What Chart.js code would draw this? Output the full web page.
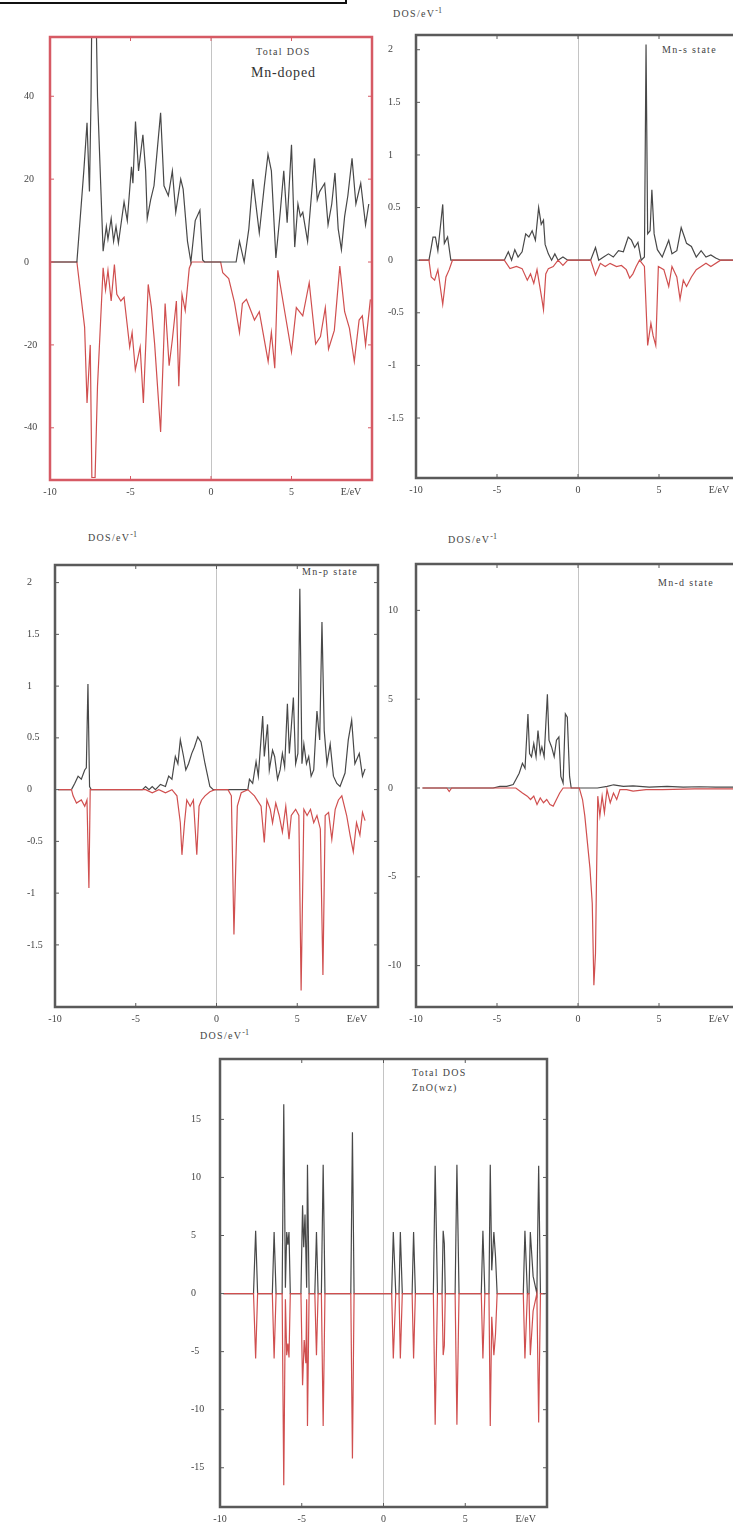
<!DOCTYPE html>
<html>
<head>
<meta charset="utf-8">
<script src="https://cdn.jsdelivr.net/npm/chart.js@4.4.1/dist/chart.umd.min.js"></script>
<style>
    html, body { margin: 0; padding: 0; background: #fff; overflow: hidden; width: 733px; height: 1528px; }
    canvas.panel { position: absolute; }
    .txt { position: absolute; font-family: 'Liberation Serif', 'DejaVu Serif', serif; color: #444; white-space: nowrap; line-height: 1; font-size: 10px; letter-spacing: 1.3px; }
    .txt sup { font-size: 8px; vertical-align: 4px; letter-spacing: 0; }
    .corner { position: absolute; left: -2px; top: -2px; width: 347px; height: 4px; border-right: 2px solid #111; border-bottom: 2px solid #111; }
</style>
</head>
<body>
<div class="corner"></div>

<div class="txt" style="left:256px;top:47px;">Total DOS</div>
<div class="txt" style="left:251px;top:66px;font-size:14px;letter-spacing:0.8px;color:#333;">Mn-doped</div>

<div class="txt" style="left:393px;top:7px;">DOS/eV<sup>-1</sup></div>
<div class="txt" style="left:662px;top:45px;">Mn-s state</div>

<div class="txt" style="left:88px;top:531px;">DOS/eV<sup>-1</sup></div>
<div class="txt" style="left:302px;top:567px;">Mn-p state</div>

<div class="txt" style="left:448px;top:533px;">DOS/eV<sup>-1</sup></div>
<div class="txt" style="left:658px;top:578px;">Mn-d state</div>

<div class="txt" style="left:200px;top:1029px;">DOS/eV<sup>-1</sup></div>
<div class="txt" style="left:412px;top:1068px;">Total DOS</div>
<div class="txt" style="left:412px;top:1083px;">ZnO(wz)</div>

<script>
    // energy axis, shared by all panels
    const xTicks = [-10, -5, 0, 5, 8.7];
    const xTickLabels = ['-10', '-5', '0', '5', 'E/eV'];

    // y tick values
    const totalTicks = [40, 20, 0, -20, -40];
    const sTicks = [2, 1.5, 1, 0.5, 0, -0.5, -1, -1.5];
    const pTicks = [2, 1.5, 1, 0.5, 0, -0.5, -1, -1.5];
    const dTicks = [10, 5, 0, -5, -10];
    const znoTicks = [15, 10, 5, 0, -5, -10, -15];

    // Total DOS, Mn-doped  [E, DOS]
    const totalUp = [[-10,0],[-8.33,0],[-7.9,22],[-7.7,33.6],[-7.55,17],[-7.45,40],[-7.38,70],[-7.18,70],[-7.05,40],[-6.7,2.6],[-6.5,8.6],[-6.4,5.5],[-6.2,10.5],[-6.05,5],[-5.9,8.6],[-5.75,4.6],[-5.4,14.5],[-5.2,10],[-4.94,23],[-4.85,19],[-4.69,33.9],[-4.5,22],[-4.23,30.7],[-4.06,22],[-3.96,10.5],[-3.75,15],[-3.54,18.4],[-3.13,36],[-2.92,18.4],[-2.65,16],[-2.4,22],[-2.19,12],[-1.88,20],[-1.73,17.6],[-1.46,5],[-1.25,0],[-0.98,10],[-0.69,12.5],[-0.52,0.5],[-0.4,0],[1.56,0],[1.77,5],[2.06,0],[2.35,8],[2.6,20],[3.0,7],[3.3,18],[3.54,26],[3.75,22],[4.03,1],[4.3,12],[4.52,22],[4.73,9.5],[5.0,28.3],[5.2,3.6],[5.4,14],[5.55,11],[5.7,12],[6.0,5],[6.43,25],[6.6,15],[6.75,17],[7.06,19],[7.27,9],[7.5,14],[7.7,21.5],[7.9,8],[8.1,3],[8.3,11],[8.5,16],[8.76,25],[9.0,14],[9.3,19],[9.6,9],[9.8,14]];
    const totalDn = [[-10,0],[-8.33,0],[-7.85,-15.7],[-7.7,-34],[-7.5,-20],[-7.4,-52],[-7.2,-52],[-7.05,-30],[-6.7,-1.4],[-6.55,-6.7],[-6.4,-2],[-6.2,-9.4],[-6.0,-0.6],[-5.85,-7.8],[-5.6,-9.4],[-5.4,-8.5],[-5.05,-20.5],[-4.9,-17],[-4.7,-26],[-4.4,-20.5],[-4.2,-34],[-3.9,-5.4],[-3.7,-11],[-3.5,-19.8],[-3.13,-41],[-2.85,-10],[-2.6,-25],[-2.4,-18.7],[-2.15,-9.4],[-2.0,-30],[-1.8,-7.8],[-1.6,-11.7],[-1.35,-1.5],[-1.2,0],[0.6,0],[0.73,-2.6],[1.1,-4],[1.46,-9.8],[1.77,-17],[1.95,-10],[2.2,-9],[2.7,-14],[3.0,-12],[3.55,-24],[3.75,-17],[3.96,-25.6],[4.15,-2],[4.58,-12],[5.0,-21.7],[5.3,-11],[5.7,-13],[6.1,-5],[6.5,-19.8],[6.8,-18],[7.1,-11],[7.3,-21],[7.66,-16.5],[8.0,-1],[8.3,-12],[8.6,-16],[8.9,-24],[9.2,-14],[9.4,-13],[9.6,-20],[9.9,-9]];

    // Mn-s state
    const sUp = [[-9.8,0],[-9.2,0],[-9.06,0.12],[-8.95,0.22],[-8.8,0.22],[-8.65,0.09],[-8.35,0.53],[-8.25,0.16],[-8.05,0.22],[-7.85,0],[-4.55,0],[-4.3,0.08],[-4.1,0],[-3.9,0.1],[-3.7,0.03],[-3.45,0.08],[-3.23,0.25],[-3.03,0.22],[-2.83,0.28],[-2.63,0.19],[-2.43,0.5],[-2.27,0.34],[-2.13,0.38],[-2.03,0.15],[-1.83,0.06],[-1.63,0],[-1.43,0.06],[-1.23,0],[-0.93,0.03],[-0.63,0],[0.78,0],[1.08,0.12],[1.28,0],[1.58,0.03],[1.88,0.06],[2.18,0.03],[2.5,0.09],[2.8,0.08],[3.1,0.22],[3.3,0.19],[3.5,0.12],[3.7,0.17],[3.9,0],[4.1,0.03],[4.2,2.05],[4.3,0.25],[4.45,0.28],[4.56,0.67],[4.7,0.25],[4.9,0.1],[5.2,0.03],[5.6,0.19],[5.8,0.06],[6.1,0.09],[6.37,0.31],[6.57,0.22],[6.7,0.16],[7.0,0.13],[7.3,0.03],[7.6,0.09],[7.9,0.03],[8.2,0.05],[8.5,0.02],[8.8,0],[9.8,0]];
    const sDn = [[-9.8,0],[-9.2,0],[-9.06,-0.16],[-8.85,-0.19],[-8.65,-0.09],[-8.35,-0.42],[-8.15,-0.16],[-7.95,-0.09],[-7.75,0],[-4.55,0],[-4.2,-0.08],[-3.8,-0.06],[-3.45,-0.08],[-3.13,-0.19],[-2.93,-0.13],[-2.73,-0.22],[-2.53,-0.09],[-2.23,-0.37],[-2.13,-0.47],[-1.99,-0.13],[-1.83,-0.08],[-1.53,-0.06],[-1.23,0],[-0.93,-0.05],[-0.63,0],[0.78,0],[1.08,-0.14],[1.38,-0.03],[1.68,-0.06],[1.98,-0.03],[2.38,-0.06],[2.68,-0.05],[2.98,-0.09],[3.19,-0.17],[3.39,-0.13],[3.59,-0.06],[3.8,0],[4.1,-0.06],[4.3,-0.81],[4.5,-0.6],[4.64,-0.72],[4.8,-0.81],[4.96,-0.06],[5.3,-0.09],[5.6,-0.25],[5.8,-0.06],[6.1,-0.16],[6.3,-0.37],[6.5,-0.19],[6.7,-0.25],[7.0,-0.16],[7.3,-0.09],[7.6,-0.06],[7.9,-0.03],[8.2,-0.06],[8.8,0],[9.8,0]];

    // Mn-p state
    const pUp = [[-9.8,0],[-8.98,0],[-8.78,0.06],[-8.57,0.13],[-8.37,0.1],[-8.16,0.19],[-8.06,0.21],[-7.96,1.02],[-7.86,0.03],[-7.76,0],[-4.59,0],[-4.39,0.03],[-4.18,0],[-3.98,0.03],[-3.78,0],[-3.47,0.05],[-3.16,0.03],[-2.96,0.13],[-2.76,0.1],[-2.55,0.32],[-2.39,0.25],[-2.24,0.48],[-2.04,0.32],[-1.9,0.19],[-1.73,0.25],[-1.53,0.35],[-1.37,0.41],[-1.16,0.51],[-0.96,0.46],[-0.71,0.25],[-0.41,0.03],[-0.2,0],[1.94,0],[2.04,0.1],[2.24,0.06],[2.45,0.27],[2.59,0.13],[2.86,0.71],[2.96,0.32],[3.16,0.63],[3.27,0.19],[3.47,0.38],[3.6,0.32],[3.78,0.1],[3.94,0.19],[4.08,0.35],[4.22,0.22],[4.39,0.83],[4.51,0.35],[4.63,0.6],[4.76,0.89],[4.9,0.25],[5.04,0.35],[5.16,1.94],[5.29,0.25],[5.41,0.44],[5.57,0.25],[5.71,0.32],[5.86,0.13],[6.02,0.19],[6.22,0.76],[6.39,0.48],[6.53,1.62],[6.67,0.57],[6.84,0.25],[7.04,0.44],[7.24,0.13],[7.45,0.06],[7.65,0.03],[7.96,0.16],[8.16,0.48],[8.37,0.67],[8.57,0.25],[8.84,0.35],[9.04,0.13],[9.2,0.2]];
    const pDn = [[-9.8,0],[-8.98,0],[-8.88,-0.06],[-8.67,-0.13],[-8.37,-0.1],[-8.16,-0.16],[-8.02,-0.1],[-7.9,-0.95],[-7.82,0],[-4.39,0],[-3.98,-0.03],[-3.57,0],[-3.16,-0.03],[-2.76,0],[-2.45,-0.06],[-2.24,-0.32],[-2.14,-0.63],[-1.98,-0.32],[-1.84,-0.1],[-1.63,-0.16],[-1.43,-0.1],[-1.22,-0.63],[-1.08,-0.16],[-0.92,-0.1],[-0.71,-0.06],[-0.41,-0.02],[-0.1,0],[0.71,0],[0.92,-0.06],[1.08,-1.4],[1.29,-0.16],[1.53,-0.03],[1.94,0],[2.35,-0.06],[2.76,-0.16],[2.96,-0.51],[3.12,-0.1],[3.33,-0.19],[3.47,-0.32],[3.67,-0.13],[3.88,-0.25],[4.08,-0.41],[4.29,-0.16],[4.49,-0.48],[4.63,-0.25],[4.9,-0.19],[5.1,-0.25],[5.24,-1.94],[5.41,-0.19],[5.61,-0.25],[5.82,-0.19],[6.02,-0.32],[6.22,-0.25],[6.43,-0.38],[6.59,-1.79],[6.73,-0.25],[6.94,-0.22],[7.14,-0.48],[7.35,-0.19],[7.55,-0.1],[7.76,-0.06],[8.06,-0.25],[8.27,-0.44],[8.47,-0.6],[8.67,-0.32],[8.88,-0.44],[9.04,-0.22],[9.2,-0.3]];

    // Mn-d state
    const dUp = [[-9.6,0],[-5.24,0],[-4.82,0.09],[-4.4,0.09],[-4.0,0.19],[-3.84,0.46],[-3.63,0.83],[-3.43,1.39],[-3.27,1.11],[-3.09,4.17],[-2.99,1.94],[-2.87,1.76],[-2.73,2.5],[-2.59,1.76],[-2.47,3.24],[-2.33,1.94],[-2.23,2.31],[-2.09,1.76],[-1.89,5.28],[-1.79,2.69],[-1.63,2.31],[-1.47,1.76],[-1.33,2.69],[-1.18,2.87],[-1.06,0.65],[-0.92,0.28],[-0.78,4.17],[-0.66,3.98],[-0.52,0.65],[-0.42,0],[1.2,0],[1.8,0.09],[2.2,0.18],[2.8,0.09],[3.4,0.12],[4.4,0.05],[5.5,0.09],[6.5,0.05],[7.5,0.07],[8.5,0.05],[9.7,0.05]];
    const dDn = [[-9.6,0],[-8.1,0],[-7.95,-0.2],[-7.8,0],[-3.84,0],[-3.43,-0.28],[-3.13,-0.46],[-2.93,-0.65],[-2.73,-0.46],[-2.53,-0.93],[-2.33,-0.56],[-2.13,-0.83],[-1.93,-0.65],[-1.73,-0.93],[-1.53,-1.02],[-1.33,-0.65],[-1.13,-0.28],[-0.92,0],[0.08,0],[0.28,-0.65],[0.42,-1.57],[0.58,-3.06],[0.74,-4.54],[0.88,-6.5],[0.98,-11.1],[1.08,-9.3],[1.14,-5.2],[1.22,-0.46],[1.35,-1.57],[1.49,-0.46],[1.63,-1.39],[1.79,-0.09],[1.99,-0.83],[2.19,-0.28],[2.39,-0.65],[2.59,-0.09],[3.0,-0.09],[3.4,-0.18],[4.2,-0.09],[5.2,-0.09],[7.2,-0.05],[9.7,-0.05]];

    // Total DOS, ZnO
    const znoUp = [[-9.8,0],[-7.95,0],[-7.82,5.4],[-7.7,0],[-6.8,0],[-6.69,5.3],[-6.57,0],[-6.2,0],[-6.1,16.3],[-6.0,0.5],[-5.92,5.3],[-5.85,4.2],[-5.78,5.3],[-5.7,0],[-5.05,0],[-4.95,7.6],[-4.88,4.0],[-4.8,6.8],[-4.7,0.5],[-4.65,11.1],[-4.55,0],[-4.2,0],[-4.1,5.3],[-4.0,0],[-3.8,0],[-3.69,11.1],[-3.58,0],[-2.0,0],[-1.9,13.9],[-1.8,0],[0.5,0],[0.6,5.3],[0.75,0],[0.95,0],[1.03,5.3],[1.15,0],[1.75,0],[1.84,5.3],[1.95,0],[3.05,0],[3.16,11.0],[3.3,0],[3.58,0],[3.65,5.4],[3.72,4.3],[3.78,0],[4.38,0],[4.49,11.1],[4.62,0],[5.98,0],[6.08,5.4],[6.2,0],[6.45,0],[6.53,11.1],[6.62,2],[6.75,5.3],[6.85,3.2],[6.95,0],[8.55,0],[8.65,5.4],[8.8,0],[8.9,0],[8.98,5.3],[9.15,1.5],[9.38,0],[9.49,11],[9.6,0],[9.9,0]];
    const znoDn = [[-9.8,0],[-7.95,0],[-7.82,-5.6],[-7.7,0],[-6.8,0],[-6.69,-5.6],[-6.57,0],[-6.2,0],[-6.1,-16.5],[-6.0,-0.5],[-5.92,-5.3],[-5.85,-4.3],[-5.78,-5.5],[-5.7,0],[-5.05,0],[-4.95,-7.9],[-4.85,-4],[-4.75,-6],[-4.7,-0.5],[-4.65,-11.4],[-4.55,0],[-4.2,0],[-4.1,-5.3],[-4.0,0],[-3.8,0],[-3.69,-11.4],[-3.58,0],[-2.0,0],[-1.9,-14.2],[-1.8,0],[0.5,0],[0.6,-5.6],[0.75,0],[0.95,0],[1.03,-5.6],[1.15,0],[1.75,0],[1.84,-5.6],[1.95,0],[3.05,0],[3.16,-11.3],[3.3,0],[3.58,0],[3.65,-5.3],[3.72,-4.5],[3.78,0],[4.38,0],[4.49,-11.3],[4.62,0],[5.98,0],[6.08,-5.6],[6.2,0],[6.45,0],[6.53,-11.4],[6.62,-2],[6.75,-5.3],[6.85,-3.5],[6.95,0],[8.55,0],[8.65,-5.6],[8.8,0],[8.9,0],[8.98,-5.3],[9.15,-1.5],[9.38,0],[9.49,-11.1],[9.6,0],[9.9,0]];

    const UP_COLOR = '#484848';
    const DN_COLOR = '#d04f4f';
    const FONT = { family: "'Liberation Serif', 'DejaVu Serif', serif", size: 10 };

    // frame around the plot area with small inward tick marks
    const framePlugin = {
        id: 'frame',
        afterDraw(chart, args, opts) {
            const { ctx, chartArea: a, scales } = chart;
            const x = scales.x, y = scales.y;
            ctx.save();
            ctx.strokeStyle = opts.color;
            ctx.lineWidth = 1;
            ctx.beginPath();
            x.ticks.forEach(function(t, i) {
                if (i === x.ticks.length - 1 || t.value <= x.min) return;
                const px = x.getPixelForValue(t.value);
                ctx.moveTo(px, a.top); ctx.lineTo(px, a.top + 4);
                ctx.moveTo(px, a.bottom); ctx.lineTo(px, a.bottom - 4);
            });
            y.ticks.forEach(function(t) {
                const py = y.getPixelForValue(t.value);
                ctx.moveTo(a.left, py); ctx.lineTo(a.left + 4, py);
                ctx.moveTo(a.right, py); ctx.lineTo(a.right - 4, py);
            });
            ctx.stroke();
            ctx.lineWidth = opts.width;
            ctx.strokeRect(a.left, a.top, a.right - a.left, a.bottom - a.top);
            ctx.restore();
        }
    };

    function drawPanel(p) {
        const padTop = 4, padRight = 6, xAxisH = 22;
        const w = p.yAxisW + (p.right - p.left) + padRight;
        const h = padTop + (p.bottom - p.top) + xAxisH;
        const canvas = document.createElement('canvas');
        canvas.className = 'panel';
        canvas.width = w;
        canvas.height = h;
        canvas.style.width = w + 'px';
        canvas.style.height = h + 'px';
        canvas.style.left = (p.left - p.yAxisW) + 'px';
        canvas.style.top = (p.top - padTop) + 'px';
        document.body.appendChild(canvas);

        new Chart(canvas, {
            type: 'line',
            data: {
                datasets: [
                    { label: 'up', data: p.up, borderColor: UP_COLOR, borderWidth: 1.2, pointRadius: 0, tension: 0, order: p.redOnTop ? 1 : 0 },
                    { label: 'down', data: p.down, borderColor: DN_COLOR, borderWidth: 1.2, pointRadius: 0, tension: 0, order: p.redOnTop ? 0 : 1 }
                ]
            },
            options: {
                responsive: false,
                animation: false,
                events: [],
                layout: { padding: { top: padTop, right: padRight, left: 0, bottom: 0 } },
                plugins: {
                    legend: { display: false },
                    tooltip: { enabled: false },
                    frame: { color: p.frameColor, width: p.frameWidth }
                },
                scales: {
                    x: {
                        type: 'linear',
                        min: -10,
                        max: 10,
                        afterBuildTicks: function(scale) { scale.ticks = xTicks.map(v => ({ value: v })); },
                        afterFit: function(scale) { scale.height = xAxisH; },
                        ticks: {
                            autoSkip: false,
                            maxRotation: 0,
                            padding: 6,
                            color: '#444',
                            font: FONT,
                            callback: function(v, i) { return xTickLabels[i]; }
                        },
                        grid: {
                            drawTicks: false,
                            color: ctx => (ctx.tick && ctx.tick.value === 0) ? '#c4c4c4' : 'rgba(0,0,0,0)',
                            lineWidth: 1
                        },
                        border: { display: false }
                    },
                    y: {
                        type: 'linear',
                        min: p.yMin,
                        max: p.yMax,
                        afterBuildTicks: function(scale) { scale.ticks = p.yTicks.map(v => ({ value: v })); },
                        afterFit: function(scale) { scale.width = p.yAxisW; },
                        ticks: {
                            crossAlign: 'far',
                            padding: 4,
                            color: '#444',
                            font: FONT,
                            callback: v => String(v)
                        },
                        grid: { display: false },
                        border: { display: false }
                    }
                }
            },
            plugins: [framePlugin]
        });
    }

    drawPanel({ left: 50, right: 372, top: 31, bottom: 480, yAxisW: 26, yMin: -52.6, yMax: 54.3,
        yTicks: totalTicks, up: totalUp, down: totalDn, redOnTop: false, frameColor: '#d65a64', frameWidth: 2.5 });
    drawPanel({ left: 416, right: 740, top: 29, bottom: 478, yAxisW: 28, yMin: -2.07, yMax: 2.14,
        yTicks: sTicks, up: sUp, down: sDn, redOnTop: true, frameColor: '#5a5a5a', frameWidth: 2.5 });
    drawPanel({ left: 55, right: 378, top: 559, bottom: 1007, yAxisW: 28, yMin: -2.1, yMax: 2.17,
        yTicks: pTicks, up: pUp, down: pDn, redOnTop: true, frameColor: '#5a5a5a', frameWidth: 2.5 });
    drawPanel({ left: 416, right: 740, top: 558, bottom: 1007, yAxisW: 28, yMin: -12.33, yMax: 12.61,
        yTicks: dTicks, up: dUp, down: dDn, redOnTop: true, frameColor: '#5a5a5a', frameWidth: 2.5 });
    drawPanel({ left: 220, right: 547, top: 1053, bottom: 1507, yAxisW: 29, yMin: -18.38, yMax: 20.2,
        yTicks: znoTicks, up: znoUp, down: znoDn, redOnTop: true, frameColor: '#5a5a5a', frameWidth: 2.5 });
</script>
</body>
</html>
